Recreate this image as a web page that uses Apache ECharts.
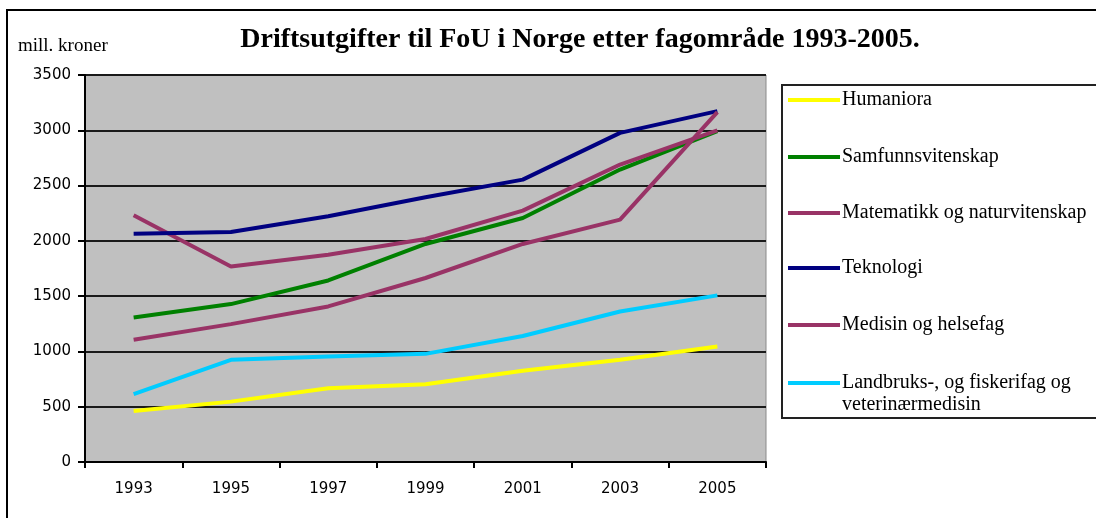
<!DOCTYPE html>
<html>
<head>
<meta charset="utf-8">
<script src="https://cdn.jsdelivr.net/npm/echarts@6/dist/echarts.min.js"></script>
<style>
  html, body { margin: 0; padding: 0; background: #fff; }
  #chart { width: 1096px; height: 518px; }
</style>
</head>
<body>
<div id="chart"></div>
<script>
  var years = ['1993', '1995', '1997', '1999', '2001', '2003', '2005'];

  var humaniora = [462, 546, 667, 704, 825, 924, 1044];
  var samfunn = [1307, 1428, 1642, 1972, 2207, 2645, 2992];
  var matematikk = [2231, 1769, 1875, 2017, 2273, 2690, 3000];
  var teknologi = [2065, 2080, 2222, 2394, 2554, 2977, 3173];
  var medisin = [1105, 1247, 1407, 1664, 1972, 2192, 3164];
  var landbruk = [613, 924, 954, 978, 1140, 1361, 1507];

  var names = [
    'Humaniora',
    'Samfunnsvitenskap',
    'Matematikk og naturvitenskap',
    'Teknologi',
    'Medisin og helsefag',
    'Landbruks-, og fiskerifag og veterinærmedisin'
  ];
  var colors = ['#ffff00', '#008000', '#993366', '#000080', '#993366', '#00ccff'];
  var values = [humaniora, samfunn, matematikk, teknologi, medisin, landbruk];

  var serif = '"Liberation Serif", "Times New Roman", serif';
  var sans = '"DejaVu Sans", Verdana, sans-serif';

  function each(arr, fn) {
    for (var i = 0; i < arr.length; i++) fn(arr[i], i);
  }

  // one legend per entry so each row sits where the original has it
  var legendTops = [89, 146, 202, 257, 314, 350];
  var legends = [];
  each(names, function(name, i) {
    var last = i === names.length - 1;
    legends.push({
      data: [name],
      left: 788,
      top: legendTops[i],
      padding: 0,
      icon: 'rect',
      itemWidth: 52,
      itemHeight: 4,
      itemGap: 0,
      selectedMode: false,
      // empty first line keeps the icon level with "Landbruks-"
      formatter: last ? '\nLandbruks-, og fiskerifag og\nveterinærmedisin' : '{name}',
      textStyle: {
        fontFamily: serif,
        fontSize: 20,
        color: '#000',
        lineHeight: 22,
        padding: [0, 0, 0, -3]
      }
    });
  });

  var series = [];
  each(names, function(name, i) {
    series.push({
      name: name,
      type: 'line',
      data: values[i],
      symbol: 'none',
      color: colors[i],
      lineStyle: { width: 4, color: colors[i] }
    });
  });

  var chart = echarts.init(document.getElementById('chart'));
  chart.setOption({
    animation: false,
    title: {
      text: 'Driftsutgifter til FoU i Norge etter fagområde 1993-2005.',
      left: 580,
      textAlign: 'center',
      top: 26,
      padding: 0,
      textStyle: { fontFamily: serif, fontSize: 28, fontWeight: 'bold', color: '#000' }
    },
    legend: legends,
    grid: {
      left: 85,
      right: 330,
      top: 75,
      bottom: 56,
      show: true,
      backgroundColor: '#c0c0c0',
      borderColor: '#8a8a8a',
      borderWidth: 1
    },
    xAxis: {
      type: 'category',
      data: years,
      boundaryGap: true,
      axisLine: { lineStyle: { color: '#000', width: 2 } },
      axisTick: { show: true, length: 6, lineStyle: { color: '#000', width: 2 } },
      axisLabel: { margin: 20, fontFamily: sans, fontSize: 15, color: '#000' }
    },
    yAxis: {
      type: 'value',
      min: 0,
      max: 3500,
      interval: 500,
      axisLine: { show: true, lineStyle: { color: '#000', width: 2 } },
      axisTick: { show: true, length: 7, lineStyle: { color: '#000', width: 2 } },
      axisLabel: {
        margin: 14,
        fontFamily: sans,
        fontSize: 15,
        color: '#000',
        formatter: function(v) { return String(v); }
      },
      splitLine: { lineStyle: { color: '#1a1a1a', width: 2 } }
    },
    graphic: [
      {
        type: 'rect',
        shape: { x: 7, y: 10, width: 1200, height: 600 },
        style: { fill: 'none', stroke: '#000', lineWidth: 2 },
        silent: true
      },
      {
        type: 'rect',
        shape: { x: 782, y: 85, width: 400, height: 333 },
        style: { fill: 'none', stroke: '#222', lineWidth: 2 },
        silent: true
      },
      {
        type: 'text',
        left: 18,
        top: 37,
        style: { text: 'mill. kroner', font: '19px ' + serif, fill: '#000' },
        silent: true
      }
    ],
    series: series
  });
</script>
</body>
</html>
